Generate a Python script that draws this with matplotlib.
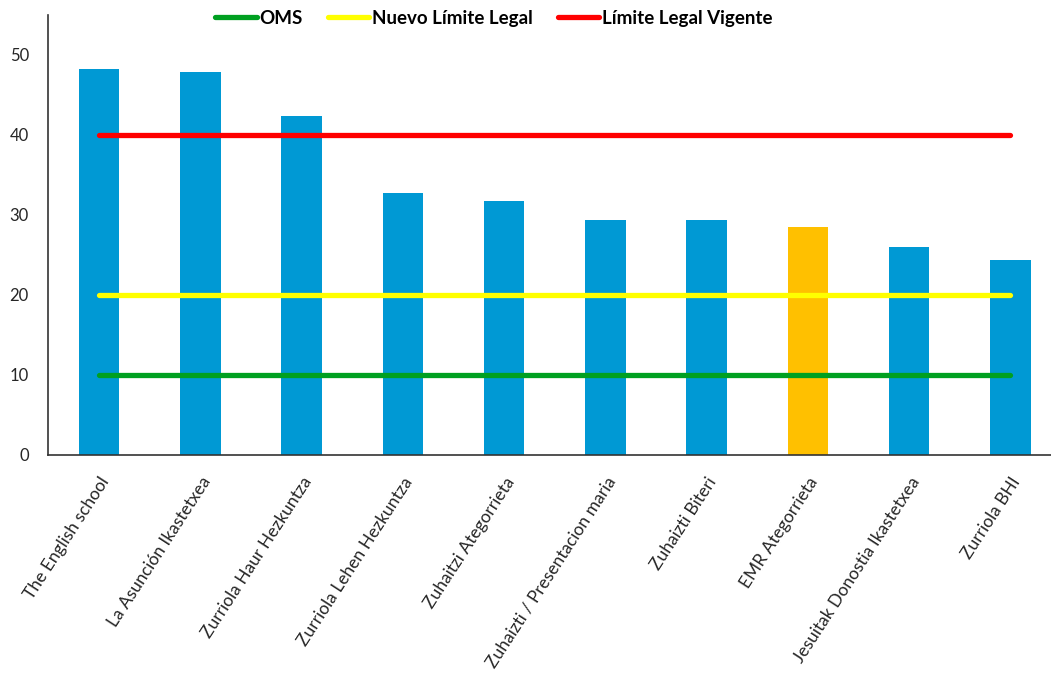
import numpy as np
import matplotlib.pyplot as plt

plt.rcParams['font.family'] = ['Lato', 'DejaVu Sans']

# data
schools = ['The English school', 'La Asunción Ikastetxea', 'Zurriola Haur Hezkuntza',
           'Zurriola Lehen Hezkuntza', 'Zuhaitzi Ategorrieta', 'Zuhaizti / Presentacion maria',
           'Zuhaizti Biteri', 'EMR Ategorrieta', 'Jesuitak Donostia Ikastetxea', 'Zurriola BHI']
values = [48.2, 47.8, 42.4, 32.7, 31.7, 29.4, 29.4, 28.5, 26.0, 24.4]
highlight = 'EMR Ategorrieta'

oms = [10] * len(schools)
nuevo_limite = [20] * len(schools)
limite_vigente = [40] * len(schools)

blue = '#0099D4'
orange = '#FFC000'

fig = plt.figure(figsize=(10.51, 6.73), dpi=100)
ax = fig.add_axes([0.046, 0.324, 0.954, 0.654])

x = np.arange(len(schools))
colors = [orange if s == highlight else blue for s in schools]
ax.bar(x, values, width=0.4, color=colors, zorder=2)

l1, = ax.plot(x, oms, color='#00A021', lw=3.8, solid_capstyle='round', zorder=3, label='OMS')
l2, = ax.plot(x, nuevo_limite, color='#FFFF00', lw=3.8, solid_capstyle='round', zorder=3,
              label='Nuevo Límite Legal')
l3, = ax.plot(x, limite_vigente, color='#FF0000', lw=3.8, solid_capstyle='round', zorder=3,
              label='Límite Legal Vigente')

ax.set_xlim(-0.5, 9.4)
ax.set_ylim(0, 55)
ax.set_yticks([0, 10, 20, 30, 40, 50])
ax.tick_params(axis='both', length=0, colors='#262626')
ax.tick_params(axis='y', pad=14, labelsize=12)
ax.tick_params(axis='x', pad=14, labelsize=12.5)
ax.set_xticks(x)
ax.set_xticklabels(schools, rotation=57, ha='right', rotation_mode='anchor')

for side in ['top', 'right']:
    ax.spines[side].set_visible(False)
ax.spines['left'].set_color('#333333')
ax.spines['bottom'].set_color('#333333')
ax.spines['left'].set_linewidth(1.2)
ax.spines['bottom'].set_linewidth(1.2)

leg = fig.legend(handles=[l1, l2, l3], loc='center', bbox_to_anchor=(0.470, 0.973), ncol=3,
                 frameon=False, handlelength=2.2, handletextpad=0.15, columnspacing=1.35,
                 prop={'weight': 'bold', 'size': 13.5})

fig.savefig('out.png', dpi=100)
